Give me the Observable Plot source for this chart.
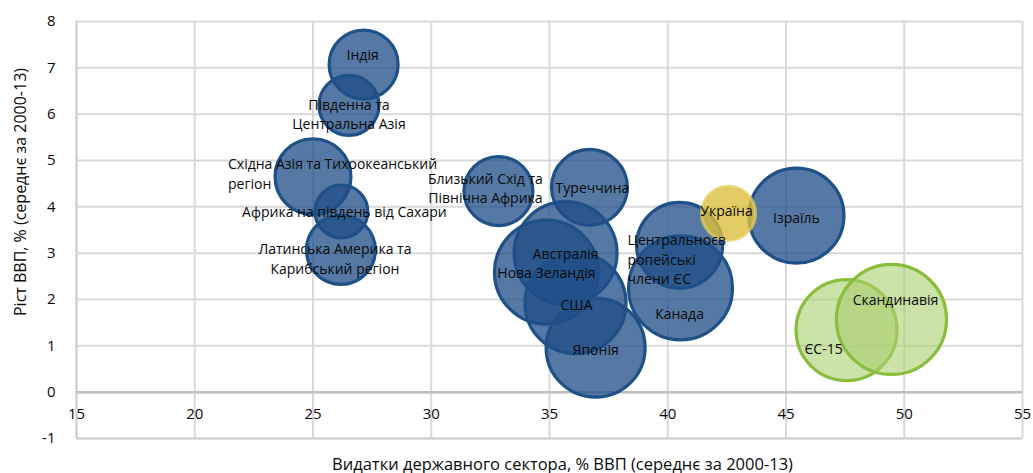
<!DOCTYPE html>
<html>
<head>
<meta charset="utf-8">
<script src="https://cdn.jsdelivr.net/npm/d3@7"></script>
<script src="https://cdn.jsdelivr.net/npm/@observablehq/plot@0.6"></script>
<style>
  html, body { margin: 0; padding: 0; background: #fff; }
  #chart { width: 1033px; height: 473px; }
</style>
</head>
<body>
<div id="chart"></div>
<script>
// ---- data ----
const regions = [
  "Індія",
  "Південна та\nЦентральна Азія",
  "Східна Азія та Тихоокеанський\nрегіон",
  "Африка на південь від Сахари",
  "Латинська Америка та\nКарибський регіон",
  "Близький Схід та\nПівнічна Африка",
  "Туреччина",
  "Австралія",
  "Нова Зеландія",
  "США",
  "Японія",
  "Центральноєв\nропейські\nчлени ЄС",
  "Канада",
  "Ізраїль",
  "Україна",
  "ЄС-15",
  "Скандинавія"
];
const spending = [27.14, 26.52, 25.0, 26.2, 26.18, 32.84, 36.69, 35.68, 34.87, 36.1, 36.95, 40.5, 40.54, 45.44, 42.57, 47.56, 49.46];
const growth   = [7.07, 6.19, 4.65, 3.9, 3.07, 4.34, 4.42, 3.0, 2.59, 1.92, 0.96, 3.17, 2.25, 3.81, 3.86, 1.34, 1.57];
const bubbleSize = [11.9, 9.0, 14.4, 7.0, 11.9, 11.9, 14.4, 26.5, 27.0, 25.5, 24.5, 18.5, 27.0, 22.6, 7.3, 25.5, 30.3];
const group = ["other","other","other","other","other","other","other","other","other","other","other","other","other","other","ukraine","eu","eu"];

// label placement tweaks (anchor, pixel nudges), as in the original chart
const labelAnchor = ["middle","middle","start","middle","middle","middle","middle","middle","middle","middle","middle","start","middle","middle","middle","middle","middle"];
const labelDx = [-1, 0, -85, 3, -6, -13, 3, 0, 0, 1, 0, -52, -1, 0, -2, -23, 4];
const labelDy = [-11, 8, -4, -1, 8, -4, -1, 0, 0, 1, 1, 13, 25, 1, -4, 18, -21];

const xTicks = [15, 20, 25, 30, 35, 40, 45, 50, 55];
const yTicks = [-1, 0, 1, 2, 3, 4, 5, 6, 7, 8];

const xTitle = "Видатки державного сектора, % ВВП (середнє за 2000-13)";
const yTitle = "Ріст ВВП, % (середнє за 2000-13)";

// ---- table ----
const rows = regions.map((name, i) => ({
  name, x: spending[i], y: growth[i], s: bubbleSize[i], g: group[i],
  anchor: labelAnchor[i], dx: labelDx[i], dy: labelDy[i]
}));

const fills   = {other: "#1f4e87", ukraine: "#dcbf3c", eu: "#a9cf6e"};
const fillOp  = {other: 0.76, ukraine: 0.8, eu: 0.6};
const strokes = {other: "#1f5189", ukraine: "#e6cd5e", eu: "#8bbd3c"};
const strokeOp = {other: 1, ukraine: 0.7, eu: 1};

const font = "'Open Sans', 'Noto Sans', sans-serif";

const marks = [
  Plot.gridX(xTicks, {stroke: "#d9d9d9", strokeOpacity: 1, strokeWidth: 2}),
  Plot.gridY(yTicks, {stroke: "#d9d9d9", strokeOpacity: 1, strokeWidth: 2}),
  Plot.ruleX([15], {stroke: "#d0d0d0", strokeWidth: 2}),
  Plot.ruleY([-1], {stroke: "#d0d0d0", strokeWidth: 2}),
  Plot.ruleY([0], {stroke: "#bfbfbf", strokeWidth: 2.5}),
];

for (const g of ["other", "ukraine", "eu"]) {
  marks.push(Plot.dot(rows.filter(d => d.g === g), {
    x: "x", y: "y", r: "s", sort: null,
    fill: fills[g], fillOpacity: fillOp[g],
    stroke: strokes[g], strokeOpacity: strokeOp[g], strokeWidth: 3.2
  }));
}

for (const a of ["middle", "start"]) {
  const sub = rows.filter(d => d.anchor === a);
  marks.push(Plot.text(sub, {
    x: "x", y: "y", text: "name", textAnchor: a,
    fontSize: 14, fill: "#0a0a0a", lineHeight: 1.4,
    render: (index, scales, values, dims, context, next) => {
      const node = next(index, scales, values, dims, context);
      d3.select(node).selectAll("text").each(function(_, k) {
        const d = sub[index[k]];
        const t = d3.select(this);
        const tr = t.attr("transform") || "";
        t.attr("transform", tr + ` translate(${d.dx},${d.dy})`);
      });
      return node;
    }
  }));
}

// tick labels
marks.push(Plot.text(xTicks, {x: d => d, y: () => 0, text: d => String(d), dy: 22, fontSize: 15, fill: "#0a0a0a"}));
marks.push(Plot.text(yTicks, {x: () => 15, y: d => d, text: d => String(d), dx: -21, textAnchor: "end", fontSize: 15, fill: "#0a0a0a"}));
// titles
marks.push(Plot.text([xTitle], {frameAnchor: "bottom", text: d => d, textAnchor: "middle", lineAnchor: "middle", dx: 13, dy: 26, fontSize: 16.5, fill: "#0a0a0a"}));
marks.push(Plot.text([yTitle], {frameAnchor: "left", text: d => d, textAnchor: "middle", lineAnchor: "middle", rotate: -90, dx: -56, dy: -38, fontSize: 16, fill: "#0a0a0a"}));

const chart = Plot.plot({
  width: 1033,
  height: 473,
  marginLeft: 76,
  marginRight: 11,
  marginTop: 21,
  marginBottom: 35,
  style: {fontFamily: font, background: "#fff", overflow: "visible"},
  x: {domain: [15, 55], axis: null},
  y: {domain: [-1, 8], axis: null},
  r: {type: "sqrt", domain: [0, 100], range: [0, 100]},
  marks
});
document.getElementById("chart").appendChild(chart);
</script>
</body>
</html>
